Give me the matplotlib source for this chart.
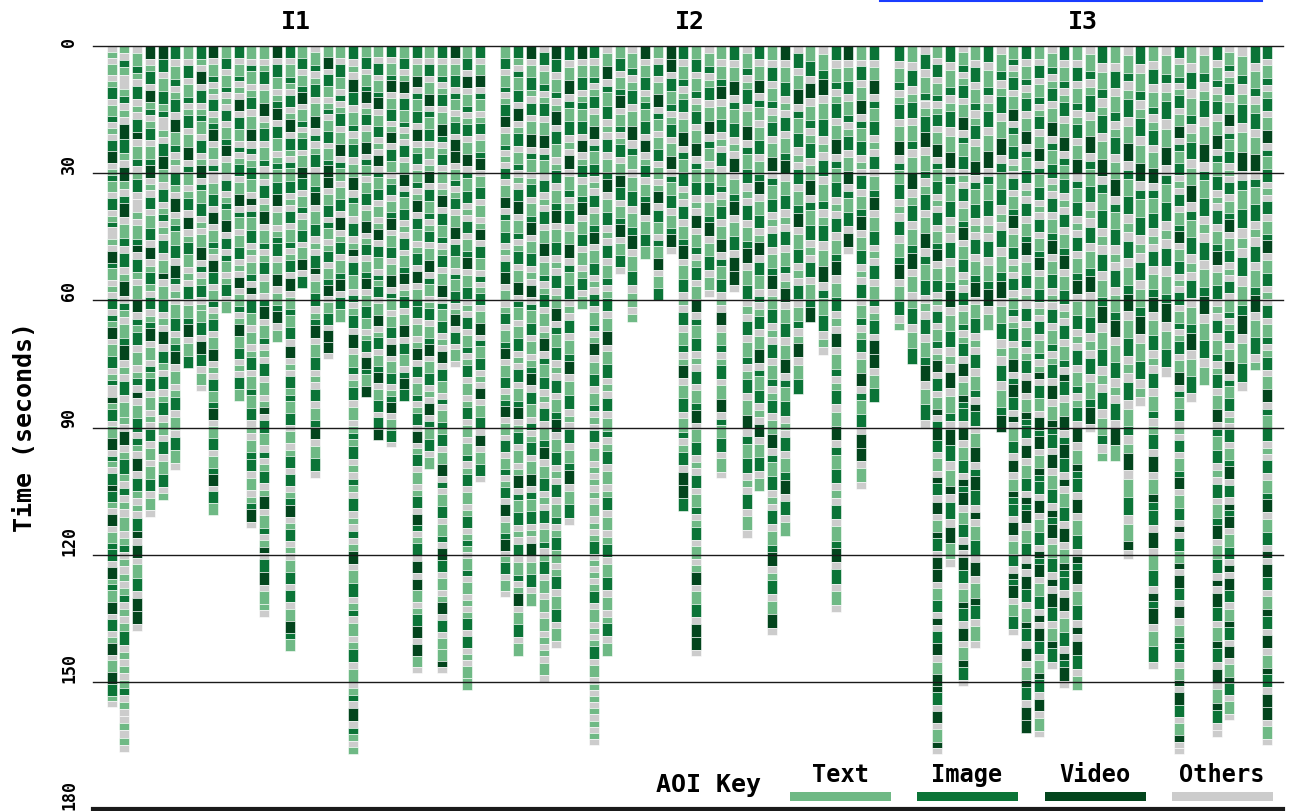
import matplotlib
matplotlib.use('Agg')
import matplotlib.pyplot as plt
from matplotlib.patches import Rectangle

# ---------------- data ----------------
groups = ['I1', 'I2', 'I3']
aoi_names = ['Text', 'Image', 'Video', 'Others']
aoi_colors = ['#6fb985', '#0b7437', '#03451d', '#cccccc']
aoi_codes = {'t': 0, 'i': 1, 'v': 2, 'o': 3}   # lower case = short fixation, upper case = long
yticks = [0, 30, 60, 90, 120, 150, 180]

# end time (seconds) of each participant column
i1_end = [156, 166.5, 138, 111, 107, 100, 76, 81.5, 110.7, 63, 83.7, 113.8, 134.6, 69.8, 142.8,
          57, 101.8, 73.8, 65, 167, 82.8, 93, 94.7, 83.7, 148, 99.7, 148, 75.7, 152, 102.8]
i2_end = [130, 143.8, 132, 150, 142, 113, 62, 165, 144, 53.7, 65, 50.2, 60, 49, 109.8,
          144, 59.2, 102, 58, 116, 105, 139, 115.7, 82, 65, 73, 133.6, 49, 104.4, 84]
i3_end = [67, 75, 90, 167, 123, 151, 142, 67, 91, 139, 162, 163, 147, 151.5, 152,
          91, 98, 98, 121, 85, 147, 78, 167, 84, 80, 163, 159, 81.5, 76.5, 165]

# AOI sequence of each column (one letter per fixation)
i1_seq = [
    "otoTotIoTiotoIVotiToIotiOtoViTotoIoitVoTIotiOvtIoTVoitoIvItoVoTiIoVtiTVoIotVoTVIto",
    "toitOtiotoVItoVtoiVoTioIotVoitoTiVotoIoTtoVotItoiotoTotiotototiototIotototiotoototo",
    "oTitoIotoIvoTiotIoOtoTivoItoTVoitIoTotiovoTIoitoVoItotoIvoVoTIoVVo",
    "VotIoVtiotIoTiVotoIoTIoVotItoIotiVoToitIoTotoIoToTIoTo",
    "VIoTItiOtoIVToIotiotoIoTvoTIotoVoItoIotIoToIoTIot",
    "IoTiotIoVTiotoItoVotiTIoViotoTIotiVoTotIoToITo",
    "ToIoTiotIoTVoiTotIoVotITotoIoTiVoTI",
    "ItoVoIotiToIotVoiTIotoTVoiotIotTIoVIoTo",
    "VoTiotoIotiVoToiOTIoVoTitoVIoTiotIoTVotoITiVoTIoTiVoIT",
    "TIoTiotoIoTiVoToIotiTVoIoiTotIoT",
    "IoTiotoVoIToiotIoTVoiToTIotoVoTiotVTIotoIT",
    "ToiTotIoTVoiotITovoiTIotoTiovoIToTotIoTiTIotoTiIoTotiVo",
    "TotIoTVotIoTiotoIotVoTiotIoToiVoTiotoIoTotvoIToiotIotVoTiotvoIVoTto",
    "VoITotiVoITotiTIVoTotiIoTVoTiVoT",
    "IoTitoIotVoItoiTIotoIoTiotIoVoTiTIoVotoItiTIoTotIoIotiVotIotoTIoIoTViT",
    "TIoTiVoTiotIoTVIoTioTIoTVoI",
    "oTiotIoTVoiotIoTiVoTIotoIvoTIotiVoTIotoIoTiVoTIo",
    "TVoITotioTIoTiVVoTIoiTotIoTiVoTIoVVo",
    "ToIToiotIoTVoiToTIoVotIoTiVoIT",
    "IotoVIoTiotIoTVoiToIotvoIToiotIoVoTiotIoTotitIotoitoIotoiotVoTIotioTotIoTotioVoitot",
    "TIoTiVotIoTVoiToTIoTVotIoTiVoTITotIoViTV",
    "ToIoTiVoTIotoVoiTIoTotVoIToitIoTVotIoTiVoTIoIV",
    "IoTiVoTIotVoITotIoTiVoTIoTVoiToTIoVoTIotiVoTIo",
    "TIotVoITiotoIoTVoiTIotoIoTiVotIoTVoIToiVI",
    "IoTVoiTIoVotIoTiotVoITotIoVoTiIoTotVoIoTiotIoVotIoTotIoViotIoVoVTotIVoVTo",
    "ToIoTVoiTIoTotVoITiotIoTVoiTotIoTiVoTIotoVoiTIoT",
    "IoTiotIoTViotIoTotVoITiotIoTVoiTIotoVoIToioTitIoTVoioTIoTioVIoTotVoIoTTvo",
    "VoTIoiTotIoVVoTiotIoTVoIToiTIotVoIoTo",
    "TIoVoTiotIoTVoiTIotoIoTiVoTIotoIoTiotIoTotIoToTiotIoTotIotitoTioTototIoIotoTT",
    "IoTVoiTotIoTiVoTIoTotVoIToiotIoTVoiTIotoVoTIoVoTIo",
]
i2_seq = [
    "TIoTiotIVoTiotoIoTVoiTIotoIVoTotIoTiVoTIotiVoToIoTiotIoVoTiVotIoTo",
    "ItoiTIoVotIoTiotoIVoTiotIoTVoiToTIotoIoTiVotIoTotVoiTIotoIoTiotVoTIoT",
    "VoTItoIoTVoiTotIoTiVoTIotoVoiTIoTotiVoIToiotIoTVoiTIotoVoTIoT",
    "oIoTiotIoTVoiToIotoIoTVoTiotIoTotVoiTIotoIoTiVoTIotoIoTiotIoToToTototoTo",
    "VIoTiotVoITotIoTiVoTIotoIoTVoiTIotoIoTiVoTIotoIoTiotITotIoTIoTo",
    "IoTVoiTIotoVoTiotIoTVoiTIotoIoTiVoTIotoIoTiVoTIo",
    "VoTIotiTIoVotIoTiVoTIoTotIoT",
    "IoTiotIoTVoiTIotoIoTiVoTIotoIoTiotVoTIoTiotoIoTotototoTototIotototIoTototIoTotototototo",
    "oTVoiTIotoIoTiVoTIotoIoTiotIoTVoTIotoIoTiotIoTotIoTotIoTIoTotIoT",
    "TIoTiVoTiotIoTVIoTiVoTIo",
    "oTiotIoTVoiToTIoTiVoTIoTot",
    "VoTIotiTIoVotIoTiVoTIT",
    "ToIoTVoiToTIoTotVoIToiTVoTI",
    "VVoITiotIoTVoiTIoTiVo",
    "IoTiotIoTVoiTIotoIoTiVoTIotoIoTiotVoTIoTiotIoVVI",
    "TIoTiotIoTVoiTIotoVoTiotIoTVoiTIotoIoTiVoTIotoIoTiotIoTotVoTIoVVo",
    "oTiotIoTVoiToTIoTiVoTIoTo",
    "ToTiVoTIotoIoTiotIoTVoiTIotoVoTiotIoTVoiTIoTo",
    "IoTVoiTIotoVoTiVoTIoVVo",
    "oTiotIoTVoiTIotoIoTiVoTIotoIoTiotIoTVoiTIotoIoTo",
    "IoTVoiToTIoTiVoTIotVoIToiotIoTVoiTIotoVoTIoT",
    "ToIoTiotIoTVoiTIotoIoTiVoTIotoIoTiotIoTVoiTIotoIoTiVotIoTVo",
    "VoTIotoIoTiVoTIotoIoTiotVoTIoTVoiTIotoIoTiVoIoT",
    "oIoTVoiTIotoIoTiVoTIotoIoTiotVoTI",
    "TIoVoTiotIoTVoiTIotoIoTiV",
    "oTiVoTIotoIoTiotIoTVoiTIoto",
    "IoTiotIoTVoiTIotoIoTiVoTIotoVoTiotIoTVoiTIotoIoTiVoIoTo",
    "VoTIoTiotIoTVoiTIoVo",
    "ToIoTVoiTIotoIoTiVoTIotoIoTiotIoTVoiTIoVVoTo",
    "IoTVoiTIotoIoTiVoTIotoIoTiotIoVVoTI",
]
i3_seq = [
    "IoTiotIoTVoiTIotoIoTiVoTIot",
    "ToIotIoTioTVotIoTiVoTotIoTI",
    "oIoTiotIVoTiotIoTVoiTIotoIoTiVoTIo",
    "ToIoTiotIoTVoiTIotoIoTiVoTIotoIoTiotVoIoTvoiVIoTovIoVoTvIoVVoTIovoIVoTVvIoVoTvo",
    "IoTiotIoTVoiTIotoIoTiVoTIotoVoTioVIoTvoIoVTo",
    "oTiotIoTVoiTIotoIoTiVoTIotoIoTiotIoVoTviIoVoTIoviVoTIovoVIoTvIoVoTvIo",
    "ToIoTiotIoTVoiTIotoIoTiVoTIotoIoTiovIoTVoiVIovoTIoVoTvIoTo",
    "IoTiotIoTVoiTIotoIoTiVoT",
    "oTiotIoTVoiTIotoIoTiVoTIotoIoTiV",
    "TiotIoTVoiTIotoIoTiVoTIotoIoTiotIoTVoiVIovoTIoVoTviIoVoTIoviVoTIo",
    "IoTiotIoTVoiTIotoIoTiVoTIotoIoTiotIoVoTviIoVoTIoviVoTIovoVIoTvIoVoTvIoVV",
    "ToIoTiotIoTVoiTIotoIoTiVoTIotoIoTiotvoIToViVoTviIoVoTIoviVoTIovoVIoTvIoVoTo",
    "oTiotIoTVoiTIotoIoTiVoTIotoIoTiotIoVoTviIoVoTIoviVoTIovoVIoTvIo",
    "IoTiotIoTVoiTIotoIoTiVoTIotoIoTiovIoTVoiVIovoTIoVoTviIoVoTIoviVo",
    "ToIoTiotIoTVoiTIotoIoTiVoTIotoIoTiotIoVoTviIoVoTIoviVoTIovoVIoT",
    "oTiotIoTVoiTIotoIoTiVoTIotoIoTiVo",
    "IoTiotIoTVoiTIotoIoTiVoTIotoIoTiot",
    "ToIoTiotIoTVoiTIotoIoTiVoTIotoIoVT",
    "oTiotIoTVoiTIotoIoTiVoTIotoIoTiotVoTIoTvo",
    "IoTiotIoTVoiTIotoIoTiVoTIoto",
    "ToIoTiotIoTVoiTIotoIoTiVoTIotoIoTiotIoVoTviIoVoTIoviVoTIo",
    "oTiotIoTVoiTIotoIoTiVoTIo",
    "IoTiotIoTVoiTIotoIoTiVoTIotoIoTiotIoTVoiTIotoIoTiVoTIovoITvoVIoVoTviIoTvoVIoTvoo",
    "ToIoTiotIoTVoiTIotoIoTiVoTIo",
    "oTiotIoTVoiTIotoIoTiVoTIoT",
    "IoTiotIoTVoiTIotoIoTiVoTIotoIoTiotIoTVoiTIotoIoTiVoTIovoVIoTvIoVoTvIoo",
    "oTiotIoTVoiTIotoIoTiVoTIotoIoTiotIoTVoiTIotoIoTiVoIoviVoTIovoVIoTvIoVoTvIoTo",
    "oTiotIoTVoiTIotoIoTiVoTIo",
    "IoTiotIoTVoiTIotoIoTiVoTIot",
    "IoTiotIoTVoiTIotoIoTiVoTIotoIoTiotIoTVoiTIotoIoTiVoTIovoVIoTvIoVoTvIoVVoTo",
]

group_ends = [i1_end, i2_end, i3_end]
group_seqs = [i1_seq, i2_seq, i3_seq]

# ---------------- figure ----------------
W, H = 1290, 812
fig = plt.figure(figsize=(W / 100, H / 100), dpi=100)
ax_left, ax_right, ax_top, ax_bot = 93, 1283, 47, 810
ax = fig.add_axes([ax_left / W, 1 - ax_bot / H, (ax_right - ax_left) / W, (ax_bot - ax_top) / H])

pitch = 12.7
first_center = (111.75 - ax_left) / pitch
ax.set_xlim(-first_center, (ax_right - ax_left) / pitch - first_center)
ax.set_ylim(180, 0)
ax.axis('off')

mono = 'DejaVu Sans Mono'
for g, (ends, seqs) in enumerate(zip(group_ends, group_seqs)):
    xs = []
    for j, (end, seq) in enumerate(zip(ends, seqs)):
        x = g * 31 + j
        xs.append(x)
        units = [2.0 if c.isupper() else 1.0 for c in seq]
        scale = end / sum(units)
        bottoms, heights, cols = [], [], []
        t = 0.0
        for c, u in zip(seq, units):
            d = u * scale
            bottoms.append(t)
            heights.append(d)
            cols.append(aoi_colors[aoi_codes[c.lower()]])
            t += d
        ax.bar([x] * len(seq), heights, bottom=bottoms, width=0.78, color=cols,
               edgecolor='white', linewidth=0.4, zorder=2)
    cx = (xs[0] + xs[-1]) / 2
    ax.text(cx, 1.0 + 25 / (ax_bot - ax_top), groups[g], transform=ax.get_xaxis_transform(),
            ha='center', va='center', fontsize=18, fontweight='bold', family=mono)

# horizontal reference lines and tick labels
for yt in yticks:
    lw = 3.0 if yt == 180 else 1.0
    ax.axhline(yt, color='#1a1a1a', lw=lw, zorder=4, clip_on=False)
    fig.text(69 / W, 1 - (ax_top + yt * (ax_bot - ax_top) / 180) / H, str(yt),
             rotation=90, ha='center', va='bottom', fontsize=12, fontweight='bold', family=mono)

fig.text(25 / W, 1 - 427 / H, 'Time (seconds)', rotation=90, ha='center', va='center',
         fontsize=18, fontweight='bold', family=mono)

# AOI key
fig.text(708 / W, 1 - 785 / H, 'AOI Key', ha='center', va='center', fontsize=18,
         fontweight='bold', family=mono)
key_x = [790, 917, 1045, 1172]
for name, col, kx in zip(aoi_names, aoi_colors, key_x):
    fig.add_artist(Rectangle((kx / W, 1 - 802 / H), 101 / W, 9 / H, transform=fig.transFigure,
                             facecolor=col, edgecolor='none'))
    fig.text((kx + 50) / W, 1 - 775 / H, name, ha='center', va='center', fontsize=17,
             fontweight='bold', family=mono)

# clipped hyperlink underline at top
fig.add_artist(plt.Line2D([880 / W, 1262 / W], [1 - 1.5 / H, 1 - 1.5 / H], color='#1a3cff', lw=1.5,
                          transform=fig.transFigure))

fig.savefig('out.png', dpi=100)
